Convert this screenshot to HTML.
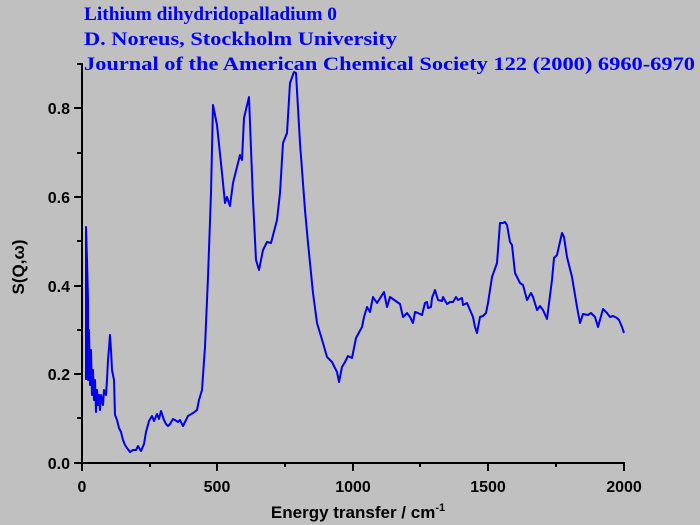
<!DOCTYPE html>
<html><head><meta charset="utf-8"><style>html,body{margin:0;padding:0;background:#c0c0c0}</style></head>
<body>
<svg width="700" height="525" xmlns="http://www.w3.org/2000/svg" style="display:block">
<rect width="700" height="525" fill="#c0c0c0"/>
<g font-family="Liberation Serif, serif" font-weight="bold" font-size="19" fill="#0000ff">
<text x="84" y="20" textLength="253" lengthAdjust="spacingAndGlyphs">Lithium dihydridopalladium 0</text>
<text x="84" y="45" textLength="313" lengthAdjust="spacingAndGlyphs">D. Noreus, Stockholm University</text>
<text x="84" y="70" textLength="611" lengthAdjust="spacingAndGlyphs">Journal of the American Chemical Society 122 (2000) 6960-6970</text>
</g>
<g stroke="#000" stroke-width="2" fill="none">
<path d="M82,63 V463 H625"/>
<path d="M74,463H82 M74,374H82 M74,286H82 M74,197H82 M74,108H82 M77,418H82 M77,330H82 M77,241H82 M77,153H82 M77,64H82"/>
<path d="M82,463V471 M217,463V471 M353,463V471 M488,463V471 M624,463V471 M150,463V467 M285,463V467 M420,463V467 M556,463V467"/>
</g>
<g font-family="Liberation Sans, sans-serif" font-weight="bold" font-size="16" fill="#000">
<g text-anchor="end">
<text x="70" y="469">0.0</text><text x="70" y="380">0.2</text><text x="70" y="292">0.4</text><text x="70" y="203">0.6</text><text x="70" y="114">0.8</text>
</g>
<g text-anchor="middle">
<text x="82" y="492">0</text><text x="217" y="492">500</text><text x="353" y="492">1000</text><text x="488" y="492">1500</text><text x="624" y="492">2000</text>
<text x="358" y="518" font-size="17">Energy transfer / cm<tspan font-size="11" dy="-7">-1</tspan></text>
<text transform="translate(24,267) rotate(-90)" font-size="17">S(Q,ω)</text>
</g>
</g>
<polyline fill="none" stroke="#0000ee" stroke-width="2" stroke-linejoin="round" points="86,380 86,227 87,260 88,300 88,380 89,330 90,385 91,350 92,395 93,370 94,400 95,380 96,412 97,390 98,405 99,395 100,410 101,395 103,405 104,390 106,395 107,380 108,360 109,348 110,335 111,350 112,370 114,380 115,415 117,420 119,428 121,432 123,440 125,445 127,448 130,452 133,450 136,450 138,446 141,451 144,444 146,432 149,421 152,416 154,421 157,414 159,419 161,411 164,420 166,424 168,426 170,424 173,419 175,420 178,422 180,420 183,426 186,420 188,416 193,413 197,410 199,400 202,390 205,347 208,277 211,193 213,105 217,125 222,173 225,203 227,197 230,206 233,183 237,167 240,155 242,160 244,118 249,97 253,200 256,260 259,270 263,250 267,242 271,243 277,220 280,193 283,143 287,133 290,83 294,72 296,73 300,143 305,210 308,243 313,293 317,323 323,343 327,357 332,362 337,372 339,382 342,367 345,362 348,356 352,358 356,338 362,327 364,317 367,307 370,312 373,297 377,303 384,292 387,307 390,297 400,304 403,317 407,313 410,317 413,323 415,312 418,313 422,315 425,303 427,302 428,308 431,307 432,298 435,290 438,300 442,301 443,297 447,304 450,302 453,302 456,297 458,300 462,298 463,305 467,303 470,310 473,317 475,327 477,333 480,317 483,316 486,313 488,303 492,277 497,263 500,223 503,223 505,222 507,225 510,242 512,245 515,273 520,283 523,285 527,300 531,293 533,297 537,310 540,306 543,310 547,319 552,280 554,258 557,255 562,233 564,237 567,257 572,277 577,307 580,323 583,314 588,315 591,313 595,317 598,327 603,309 607,313 610,317 613,316 617,318 619,320 622,327 624,333"/>
</svg>
</body></html>
